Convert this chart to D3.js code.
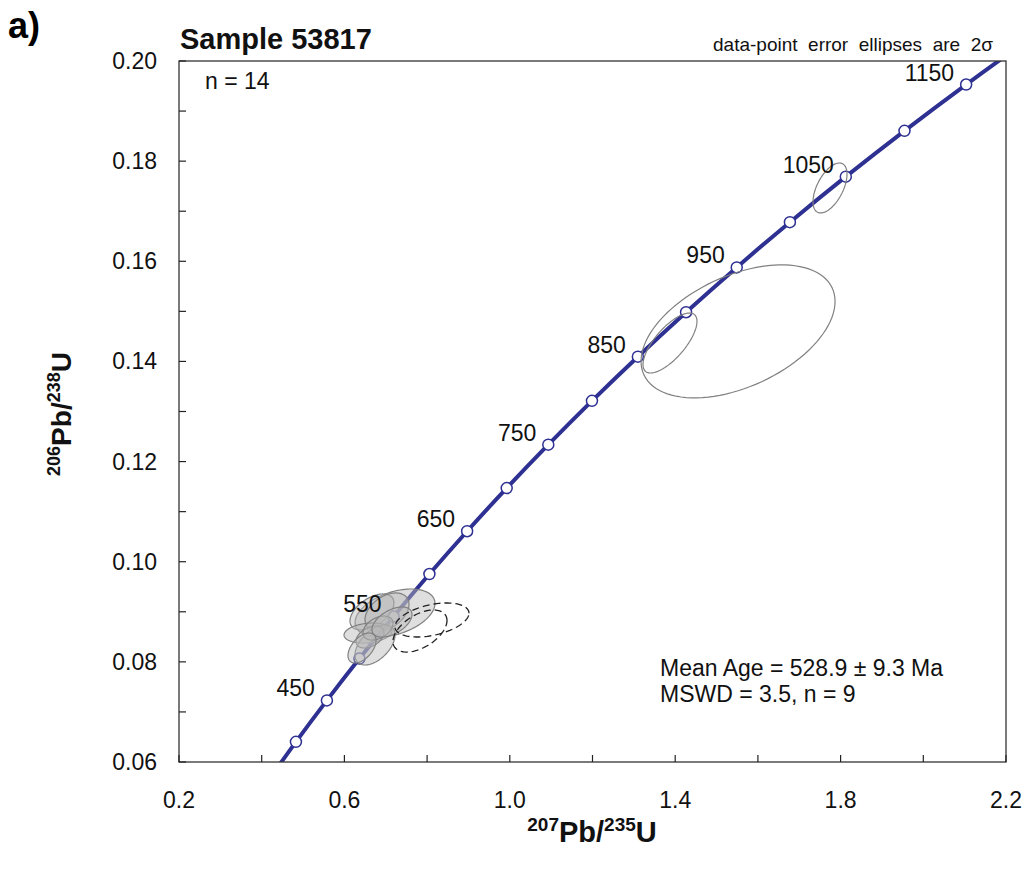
<!DOCTYPE html>
<html><head><meta charset="utf-8">
<script src="https://cdn.jsdelivr.net/npm/d3@7"></script>
<style>
body{margin:0;background:#fff;}
text{font-family:"Liberation Sans",Arial,sans-serif;}
</style></head>
<body><svg id="c" width="1029" height="870"></svg>
<script>
// Concordia curve points (Ma, 207Pb/235U, 206Pb/238U)
const curveAges = [350,400,450,500,550,600,650,700,750,800,850,900,950,1000,1050,1100,1150,1200,1250];
const curveX = [0.4116,0.4828,0.5577,0.6363,0.7189,0.8056,0.8968,0.9925,1.0931,1.1987,1.3097,1.4263,1.5488,1.6774,1.8126,1.9545,2.1036,2.2603,2.4249];
const curveY = [0.05580,0.06402,0.07230,0.08065,0.08906,0.09754,0.10609,0.11470,0.12338,0.13213,0.14095,0.14983,0.15878,0.16781,0.17690,0.18606,0.19530,0.20461,0.21400];
const markerAges = [400,450,500,550,600,650,700,750,800,850,900,950,1000,1050,1100,1150];
const labelAges = [450,550,650,750,850,950,1050,1150];

// Error ellipses: centre, 2-sigma half-widths, correlation
const ellCx  = [0.7224,0.6667,0.7030,0.6571,0.6740,0.6619,0.6813,0.7151,0.6426, 0.8118,0.7828, 1.552,1.3874,1.7744];
const ellCy  = [0.08976,0.08996,0.08996,0.08576,0.08337,0.08497,0.08676,0.08796,0.08277, 0.08836,0.08616, 0.1460,0.14368,0.17464];
const ellSx  = [0.0967,0.0532,0.0532,0.0580,0.0484,0.0339,0.0363,0.0484,0.0339, 0.0895,0.0653, 0.2346,0.0653,0.0411];
const ellSy  = [0.00479,0.0036,0.0038,0.0020,0.0040,0.0022,0.0024,0.0030,0.0030, 0.0034,0.0042, 0.01328,0.00599,0.00499];
const ellRho = [0.4,0.5,0.4,0.2,0.5,0.4,0.4,0.5,0.5, 0.4,0.5, 0.45,0.72,0.55];
const ellKind = ["fill","fill","fill","fill","fill","fill","fill","fill","fill","dash","dash","open","open","open"];

const xTicks = [0.2,0.4,0.6,0.8,1.0,1.2,1.4,1.6,1.8,2.0,2.2];
const xLabels = [0.2,0.6,1.0,1.4,1.8,2.2];
const yTicks = [0.06,0.07,0.08,0.09,0.10,0.11,0.12,0.13,0.14,0.15,0.16,0.17,0.18,0.19,0.20];
const yLabels = [0.06,0.08,0.10,0.12,0.14,0.16,0.18,0.20];

const svg = d3.select("#c");
const L=179, R=1006, T=61, B=762;
const x = d3.scaleLinear().domain([0.2,2.2]).range([L,R]);
const y = d3.scaleLinear().domain([0.06,0.20]).range([B,T]);

svg.append("clipPath").attr("id","clip").append("rect")
  .attr("x",L).attr("y",T).attr("width",R-L).attr("height",B-T);
const plot = svg.append("g").attr("clip-path","url(#clip)");

// concordia
const pts = curveAges.map((a,i)=>[curveX[i],curveY[i]]);
plot.append("path").datum(pts)
  .attr("d", d3.line().x(d=>x(d[0])).y(d=>y(d[1])).curve(d3.curveCatmullRom))
  .attr("fill","none").attr("stroke","#2e3192").attr("stroke-width",4);

// markers
plot.selectAll("circle.m").data(markerAges).join("circle")
  .attr("cx",a=>x(curveX[curveAges.indexOf(a)]))
  .attr("cy",a=>y(curveY[curveAges.indexOf(a)]))
  .attr("r",5.5).attr("fill","#fff").attr("stroke","#2e3192").attr("stroke-width",1.5);

// ellipses
function ellPath(i){
  const p=[];
  for(let k=0;k<=100;k++){
    const t=k/100*2*Math.PI;
    const ex = ellCx[i]+ellSx[i]*Math.cos(t);
    const ey = ellCy[i]+ellSy[i]*(ellRho[i]*Math.cos(t)+Math.sqrt(1-ellRho[i]*ellRho[i])*Math.sin(t));
    p.push([x(ex),y(ey)]);
  }
  return d3.line()(p)+"Z";
}
const idx = d3.range(ellCx.length);
plot.selectAll("path.e").data(idx).join("path")
  .attr("d",ellPath)
  .attr("fill",i=>ellKind[i]==="fill"?"rgba(185,185,185,0.45)":"none")
  .attr("stroke",i=>ellKind[i]==="dash"?"#222":"#808080")
  .attr("stroke-width",i=>ellKind[i]==="dash"?1.3:1.2)
  .attr("stroke-dasharray",i=>ellKind[i]==="dash"?"7,4":null);

// age labels
svg.selectAll("text.age").data(labelAges).join("text")
  .attr("x",a=>x(curveX[curveAges.indexOf(a)])-12)
  .attr("y",a=>y(curveY[curveAges.indexOf(a)])-4)
  .attr("text-anchor","end").attr("font-size",23).attr("fill","#111")
  .text(a=>a);

// frame
svg.append("rect").attr("x",L).attr("y",T).attr("width",R-L).attr("height",B-T)
  .attr("fill","none").attr("stroke","#333").attr("stroke-width",1.3);

// ticks
svg.selectAll("line.xt").data(xTicks).join("line")
  .attr("x1",d=>x(d)).attr("x2",d=>x(d)).attr("y1",B).attr("y2",B-7)
  .attr("stroke","#222").attr("stroke-width",1.2);
svg.selectAll("line.yt").data(yTicks).join("line")
  .attr("x1",L).attr("x2",L+7).attr("y1",d=>y(d)).attr("y2",d=>y(d))
  .attr("stroke","#222").attr("stroke-width",1.2);
svg.selectAll("text.xl").data(xLabels).join("text")
  .attr("x",d=>x(d)).attr("y",B+46).attr("text-anchor","middle")
  .attr("font-size",23).attr("fill","#111").text(d=>d.toFixed(1));
svg.selectAll("text.yl").data(yLabels).join("text")
  .attr("x",L-22).attr("y",d=>y(d)+8).attr("text-anchor","end")
  .attr("font-size",23).attr("fill","#111").text(d=>d.toFixed(2));

// titles
svg.append("text").attr("x",8).attr("y",38).attr("font-size",36).attr("font-weight","bold").text("a)");
svg.append("text").attr("x",180).attr("y",49).attr("font-size",29).attr("font-weight","bold").attr("fill","#111").text("Sample 53817");
svg.append("text").attr("x",205).attr("y",89).attr("font-size",23).attr("fill","#111").text("n = 14");
svg.append("text").attr("x",993).attr("y",51).attr("text-anchor","end").attr("font-size",19)
  .style("white-space","pre").attr("fill","#111").text("data-point  error  ellipses  are  2σ");
svg.append("text").attr("x",660).attr("y",676).attr("font-size",23).attr("fill","#111").text("Mean Age = 528.9 ± 9.3 Ma");
svg.append("text").attr("x",660).attr("y",702).attr("font-size",23).attr("fill","#111").text("MSWD = 3.5, n = 9");

// axis titles
const xt = svg.append("text").attr("x",592).attr("y",842).attr("text-anchor","middle")
  .attr("font-size",29).attr("font-weight","bold").attr("fill","#111");
xt.append("tspan").attr("font-size",19).attr("dy",-11).text("207");
xt.append("tspan").attr("dy",11).text("Pb/");
xt.append("tspan").attr("font-size",19).attr("dy",-11).text("235");
xt.append("tspan").attr("dy",11).text("U");

const yt = svg.append("text").attr("transform","translate(71,414) rotate(-90)").attr("text-anchor","middle")
  .attr("font-size",28).attr("font-weight","bold").attr("fill","#111");
yt.append("tspan").attr("font-size",18).attr("dy",-11).text("206");
yt.append("tspan").attr("dy",11).text("Pb/");
yt.append("tspan").attr("font-size",18).attr("dy",-11).text("238");
yt.append("tspan").attr("dy",11).text("U");
</script></body></html>
